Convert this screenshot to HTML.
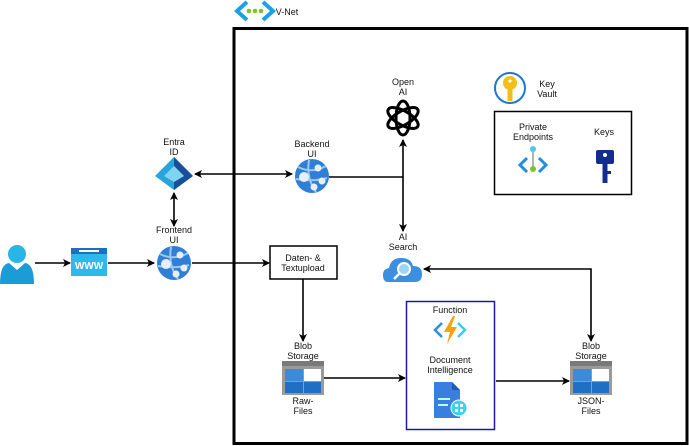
<!DOCTYPE html>
<html><head><meta charset="utf-8"><style>
html,body{margin:0;padding:0;background:#fff}
svg{display:block}
text{font-family:"Liberation Sans","DejaVu Sans",sans-serif;font-size:9px;fill:#111;text-anchor:middle}
</style></head><body>
<svg width="689" height="446" viewBox="0 0 689 446" xmlns="http://www.w3.org/2000/svg">
<defs>
<marker id="a" markerWidth="8" markerHeight="8" refX="7" refY="4" orient="auto-start-reverse" markerUnits="userSpaceOnUse"><path d="M0,0 L8,4 L0,8 L2,4z" fill="#000"/></marker>
<g id="web"><circle r="17" fill="#2f7fd6"/><path d="M-14,-9 Q0,-2 14,-10 M-3,-16 Q-6,2 4,16 M-16,3 Q2,6 15,2" stroke="#9cc8f2" stroke-width="2" fill="none"/><circle cx="-8" cy="1" r="5" fill="#e8eef6"/><circle cx="6" cy="-8" r="3.5" fill="#e8eef6"/><circle cx="10" cy="5" r="3.5" fill="#e8eef6"/><circle cx="2" cy="11" r="3.5" fill="#e8eef6"/></g>
<g id="blob"><rect x="-21" y="-17" width="42" height="34" fill="#9a9a9a"/><rect x="-21" y="-17" width="42" height="5" fill="#7a7a7a"/><rect x="-18" y="-9" width="18" height="12" fill="#3c8bd9"/><rect x="1" y="-9" width="17" height="12" fill="#fff"/><rect x="-18" y="4" width="18" height="11" fill="#1f6fc4"/><rect x="1" y="4" width="17" height="11" fill="#1f6fc4"/></g>
</defs>
<rect x="234" y="28.5" width="453" height="415" fill="none" stroke="#000" stroke-width="3"/>
<g transform="translate(255,11)"><path d="M-8,-9 L-18,0 L-8,9" stroke="#1ea0e6" stroke-width="4" fill="none"/><path d="M8,-9 L18,0 L8,9" stroke="#1ea0e6" stroke-width="4" fill="none"/><circle cx="-6" r="2.3" fill="#7cc423"/><circle cx="0" r="2.3" fill="#7cc423"/><circle cx="6" r="2.3" fill="#7cc423"/></g>
<text x="287" y="15">V-Net</text>
<g transform="translate(17,262)"><circle cx="0" cy="-8" r="9" fill="#28b6e6"/><path d="M-17,22 Q-17,2 -8,1 L0,8 L8,1 Q17,2 17,22z" fill="#1c9cd6"/><path d="M-4,1 L0,8 L4,1z" fill="#fff"/></g>
<g transform="translate(89,263)"><rect x="-18" y="-15" width="36" height="28" fill="#30b8ea"/><rect x="-18" y="-15" width="36" height="6" fill="#1a6fc0"/><rect x="-10" y="-13" width="20" height="2" fill="#fff"/><text x="0" y="6" style="fill:#fff;font-size:10px;font-weight:bold">WWW</text></g>
<g stroke="#000" stroke-width="1.6" fill="none">
<line x1="35" y1="263" x2="70" y2="263" marker-end="url(#a)"/>
<line x1="108" y1="263" x2="154" y2="263" marker-end="url(#a)"/>
<line x1="192" y1="263" x2="269" y2="263" marker-end="url(#a)"/>
<line x1="195" y1="174" x2="292" y2="174" marker-start="url(#a)" marker-end="url(#a)"/>
<line x1="174" y1="193" x2="174" y2="226" marker-start="url(#a)" marker-end="url(#a)"/>
<polyline points="329,177 403,177"/>
<line x1="403" y1="140" x2="403" y2="231" marker-start="url(#a)" marker-end="url(#a)"/>
<polyline points="424,269 591,269 591,341" marker-start="url(#a)" marker-end="url(#a)"/>
<line x1="303" y1="279" x2="303" y2="341" marker-end="url(#a)"/>
<line x1="324" y1="378" x2="405" y2="378" marker-end="url(#a)"/>
<line x1="496" y1="381" x2="569" y2="381" marker-end="url(#a)"/>
</g>
<text x="174" y="145">Entra</text><text x="174" y="155">ID</text>
<g transform="translate(174,174)"><path d="M0,-17 L-19,2 L0,16 L19,2z" fill="#2aa3dc"/><path d="M0,-17 L19,2 L0,16 L0,8 L10,2 L0,-8z" fill="#1a4e9a"/><path d="M0,-8 L-10,2 L0,8 L10,2z" fill="#7fd4f0"/></g>
<text x="174" y="233">Frontend</text><text x="174" y="243">UI</text>
<use href="#web" x="174" y="263"/>
<text x="312" y="147">Backend</text><text x="312" y="157">UI</text>
<use href="#web" x="312" y="176"/>
<rect x="270" y="246" width="67" height="33" fill="#fff" stroke="#000" stroke-width="1.5"/>
<text x="303" y="261">Daten- &amp;</text><text x="303" y="271">Textupload</text>
<text x="403" y="85">Open</text><text x="403" y="95">AI</text>
<g transform="translate(403,118)" fill="none" stroke="#000" stroke-width="3">
<ellipse rx="7" ry="17"/><ellipse rx="7" ry="17" transform="rotate(60)"/><ellipse rx="7" ry="17" transform="rotate(120)"/></g>
<text x="403" y="240">AI</text><text x="403" y="250">Search</text>
<g transform="translate(403,270)"><path d="M-15,12 Q-20,12 -20,5 Q-20,-1 -14,-2 Q-12,-12 -2,-12 Q8,-12 10,-4 Q19,-4 19,4 Q19,12 12,12z" fill="#3b8ee0"/><circle cx="1" cy="-1" r="6" fill="#9ed4f6" stroke="#fff" stroke-width="2"/><line x1="-4" y1="4" x2="-9" y2="9" stroke="#fff" stroke-width="2.5"/></g>
<g transform="translate(510,88)"><circle r="15" fill="#fff" stroke="#1b78d4" stroke-width="2"/><circle cy="-5" r="7" fill="#f2be1a"/><rect x="-2.5" y="0" width="5" height="13" fill="#f2be1a"/><circle cx="0" cy="-7" r="1.6" fill="#fff"/></g>
<text x="547" y="87">Key</text><text x="547" y="97">Vault</text>
<rect x="494.5" y="111.5" width="137" height="83" fill="none" stroke="#000" stroke-width="1.5"/>
<text x="533" y="130">Private</text><text x="533" y="140">Endpoints</text>
<g transform="translate(533,165)"><path d="M-6,-7 L-13,0 L-6,7" stroke="#1b8fe0" stroke-width="3" fill="none"/><path d="M6,-7 L13,0 L6,7" stroke="#1b8fe0" stroke-width="3" fill="none"/><line x1="0" y1="-16" x2="0" y2="3" stroke="#999" stroke-width="1.5"/><circle cy="-16" r="3" fill="#4cc8f0"/><circle cy="4" r="3" fill="#7cc423"/></g>
<text x="604" y="135">Keys</text>
<g transform="translate(605,165)"><rect x="-9" y="-15" width="18" height="14" rx="2" fill="#132d8e"/><rect x="-2.5" y="-2" width="5" height="20" fill="#132d8e"/><rect x="2" y="6" width="4" height="3" fill="#132d8e"/><circle cy="-10" r="2" fill="#fff"/></g>
<text x="303" y="349">Blob</text><text x="303" y="359">Storage</text>
<use href="#blob" x="303" y="378"/>
<text x="303" y="404">Raw-</text><text x="303" y="414">Files</text>
<rect x="406.5" y="301.5" width="88" height="128" fill="none" stroke="#1b1ba0" stroke-width="1.5"/>
<text x="450" y="313">Function</text>
<g transform="translate(450,330)"><path d="M-8,-7 L-15,0 L-8,7" stroke="#2a8fe0" stroke-width="2.5" fill="none"/><path d="M8,-7 L15,0 L8,7" stroke="#40c8f0" stroke-width="2.5" fill="none"/><path d="M3,-14 L-6,2 L0,2 L-3,14 L7,-3 L1,-3 L5,-14z" fill="#f5a20c"/></g>
<text x="450" y="363">Document</text><text x="450" y="373">Intelligence</text>
<g transform="translate(446,400)"><path d="M-12,-18 L6,-18 L14,-10 L14,18 L-12,18z" fill="#3a7fe0"/><path d="M6,-18 L14,-10 L6,-10z" fill="#1d5bb0"/><rect x="-8" y="-2" width="12" height="2" fill="#bfe"/><rect x="-8" y="4" width="10" height="2" fill="#bfe"/><circle cx="13" cy="8" r="8" fill="#3fd0f2" stroke="#fff" stroke-width="1"/><g fill="#fff"><rect x="9" y="4" width="3" height="3"/><rect x="14" y="4" width="3" height="3"/><rect x="9" y="9" width="3" height="3"/><rect x="14" y="9" width="3" height="3"/></g></g>
<text x="591" y="349">Blob</text><text x="591" y="359">Storage</text>
<use href="#blob" x="591" y="378"/>
<text x="591" y="404">JSON-</text><text x="591" y="414">Files</text>
</svg>
</body></html>
